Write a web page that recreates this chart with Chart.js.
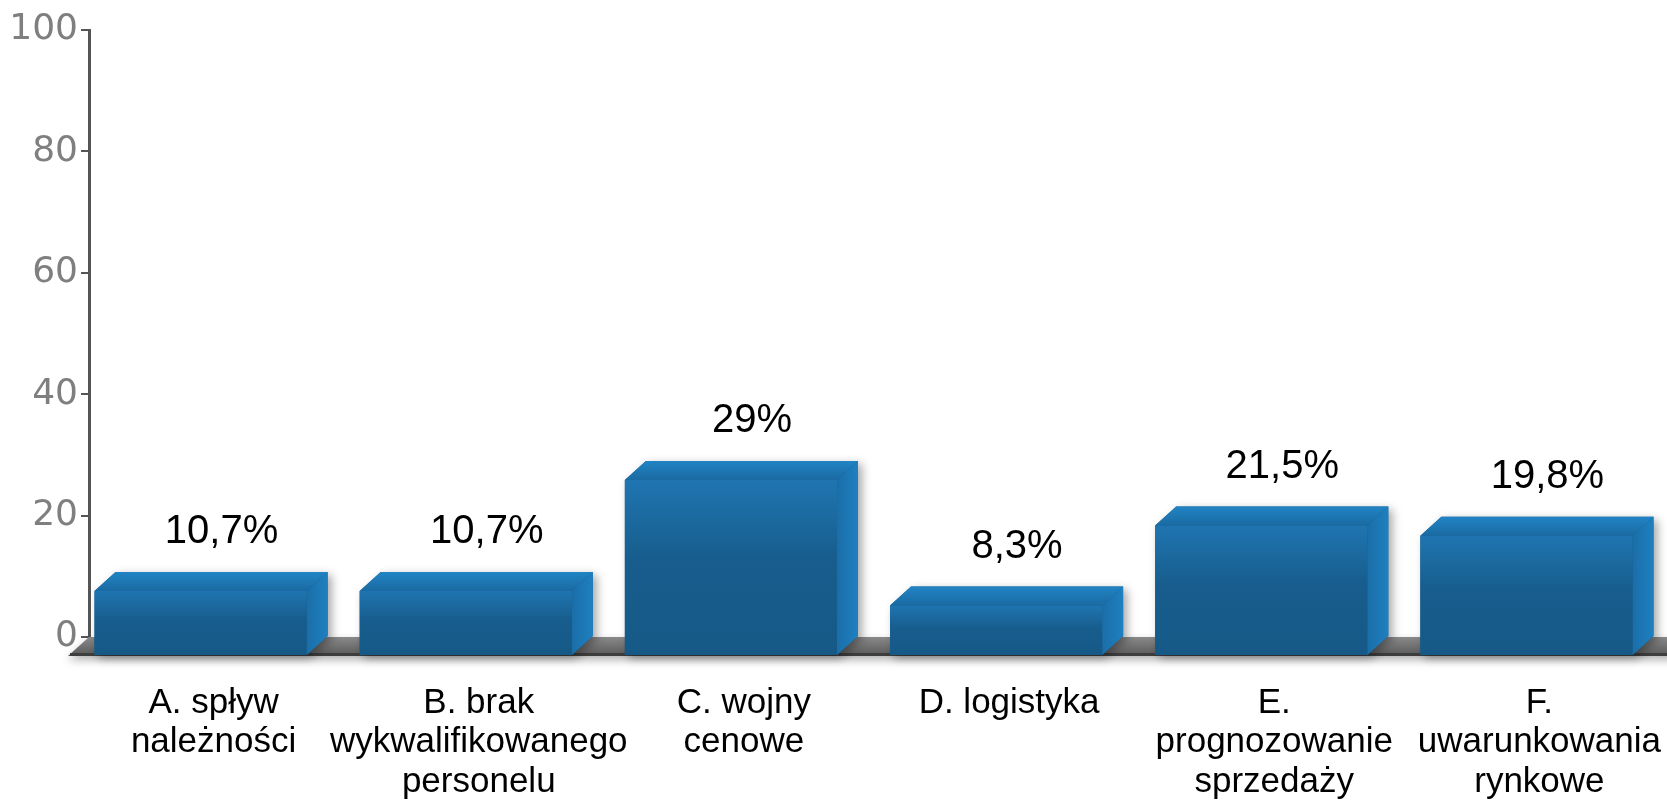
<!DOCTYPE html>
<html>
<head>
<meta charset="utf-8">
<script src="https://cdn.jsdelivr.net/npm/chart.js@4"></script>
<style>
  body { margin: 0; background: #fff; overflow: hidden; }
  #wrap { width: 1667px; height: 805px; overflow: hidden; }
</style>
</head>
<body>
<div id="wrap"><canvas id="chart" width="1680" height="805"></canvas></div>
<script>
// chart data
const categories = [
  ['A. spływ', 'należności'],
  ['B. brak', 'wykwalifikowanego', 'personelu'],
  ['C. wojny', 'cenowe'],
  ['D. logistyka'],
  ['E.', 'prognozowanie', 'sprzedaży'],
  ['F.', 'uwarunkowania', 'rynkowe']
];
const values = [10.7, 10.7, 29, 8.3, 21.5, 19.8];
const yTicks = [0, 20, 40, 60, 80, 100];

// depth of the fake 3d boxes
const DX = 21, DY = 19;

function pct(v) {
  return String(v).replace('.', ',') + '%';
}

// draws floor, top/side faces and shifts the front face
const box3d = {
  id: 'box3d',
  beforeDatasetsDraw(chart) {
    const { ctx, chartArea } = chart;
    const y0 = chart.scales.y.getPixelForValue(0);
    const left = chartArea.left, right = chart.width + DX;
    ctx.save();
    ctx.shadowColor = 'rgba(0,0,0,0.3)';
    ctx.shadowBlur = 8;
    ctx.shadowOffsetY = 4;
    const g = ctx.createLinearGradient(0, y0, 0, y0 + DY);
    g.addColorStop(0, '#8a8a8a');
    g.addColorStop(1, '#585858');
    ctx.fillStyle = g;
    ctx.beginPath();
    ctx.moveTo(left, y0);
    ctx.lineTo(right, y0);
    ctx.lineTo(right - DX, y0 + DY);
    ctx.lineTo(left - DX, y0 + DY);
    ctx.closePath();
    ctx.fill();
    ctx.shadowColor = 'transparent';
    ctx.fillStyle = '#3e3e3e';
    ctx.fillRect(left - DX + 2, y0 + DY - 3, right - left, 3);
    ctx.restore();
  },
  beforeDatasetDraw(chart, args) {
    const ctx = chart.ctx;
    args.meta.data.forEach(el => {
      const { x, y, base, width } = el.getProps(['x', 'y', 'base', 'width'], true);
      const x0 = x - width / 2, x1 = x + width / 2;
      ctx.save();
      // soft shadow of the whole box
      ctx.shadowColor = 'rgba(0,0,0,0.35)';
      ctx.shadowBlur = 10;
      ctx.shadowOffsetX = 4;
      ctx.shadowOffsetY = 3;
      ctx.fillStyle = '#175a87';
      ctx.beginPath();
      ctx.moveTo(x0 - DX, base + DY);
      ctx.lineTo(x0 - DX, y + DY);
      ctx.lineTo(x0, y);
      ctx.lineTo(x1, y);
      ctx.lineTo(x1, base);
      ctx.lineTo(x1 - DX, base + DY);
      ctx.closePath();
      ctx.fill();
      ctx.shadowColor = 'transparent';
      // top face
      let g = ctx.createLinearGradient(0, y, 0, y + DY);
      g.addColorStop(0, '#2184c4');
      g.addColorStop(1, '#1a6aa2');
      ctx.fillStyle = g;
      ctx.beginPath();
      ctx.moveTo(x0 - DX, y + DY);
      ctx.lineTo(x0, y);
      ctx.lineTo(x1, y);
      ctx.lineTo(x1 - DX, y + DY);
      ctx.closePath();
      ctx.fill();
      // side face
      g = ctx.createLinearGradient(x1 - DX, 0, x1, 0);
      g.addColorStop(0, '#1a6ea8');
      g.addColorStop(1, '#1f80c0');
      ctx.fillStyle = g;
      ctx.beginPath();
      ctx.moveTo(x1 - DX, y + DY);
      ctx.lineTo(x1, y);
      ctx.lineTo(x1, base);
      ctx.lineTo(x1 - DX, base + DY);
      ctx.closePath();
      ctx.fill();
      ctx.restore();
    });
    ctx.save();
    ctx.translate(-DX, DY);
  },
  afterDatasetDraw(chart) {
    chart.ctx.restore();
  },
  afterDatasetsDraw(chart) {
    const ctx = chart.ctx;
    const meta = chart.getDatasetMeta(0);
    ctx.save();
    ctx.font = '40px "Liberation Sans", Arial, sans-serif';
    ctx.fillStyle = '#000';
    ctx.textAlign = 'center';
    ctx.textBaseline = 'middle';
    meta.data.forEach((el, i) => {
      ctx.fillText(pct(values[i]), el.x, el.y - 40);
    });
    ctx.restore();
  }
};

function frontGradient(c) {
  const chart = c.chart;
  if (!chart.chartArea) return '#175a87';
  const y = chart.scales.y;
  const top = y.getPixelForValue(c.raw);
  const bot = y.getPixelForValue(0);
  const g = chart.ctx.createLinearGradient(0, top, 0, bot);
  g.addColorStop(0, '#1f75b1');
  g.addColorStop(0.45, '#175d8d');
  g.addColorStop(1, '#165987');
  return g;
}

new Chart(document.getElementById('chart'), {
  type: 'bar',
  data: {
    labels: categories,
    datasets: [{
      data: values,
      backgroundColor: frontGradient,
      borderWidth: 0,
      barPercentage: 0.8,
      categoryPercentage: 1,
      clip: false
    }]
  },
  options: {
    responsive: false,
    animation: false,
    layout: { padding: { top: 30, right: 0, bottom: 0, left: 0 } },
    plugins: {
      legend: { display: false },
      tooltip: { enabled: false }
    },
    scales: {
      x: {
        grid: { display: false, drawTicks: false },
        border: { display: false },
        afterFit: s => { s.height = 168; s.paddingLeft = 0; s.paddingRight = 0; },
        ticks: {
          color: '#000',
          padding: 47,
          labelOffset: -8,
          maxRotation: 0,
          autoSkip: false,
          font: { family: '"Liberation Sans", Arial, sans-serif', size: 35, lineHeight: 1.12 }
        }
      },
      y: {
        min: 0,
        max: 100,
        afterBuildTicks: s => { s.ticks = yTicks.map(v => ({ value: v })); },
        afterFit: s => { s.width = 89; },
        grid: { drawOnChartArea: false, tickLength: 8, color: '#555', lineWidth: 2 },
        border: { color: '#555', width: 3 },
        ticks: {
          color: '#7f7f7f',
          padding: 3,
          font: { family: '"DejaVu Sans", sans-serif', size: 36 }
        }
      }
    }
  },
  plugins: [box3d]
});
</script>
</body>
</html>
